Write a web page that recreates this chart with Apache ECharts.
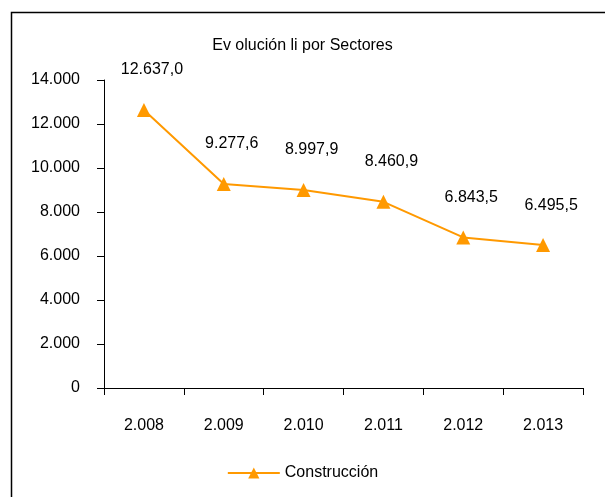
<!DOCTYPE html>
<html>
<head>
<meta charset="utf-8">
<script src="https://cdn.jsdelivr.net/npm/echarts@6/dist/echarts.min.js"></script>
<style>
  html, body { margin: 0; padding: 0; background: #fff; }
  #chart { width: 605px; height: 497px; }
</style>
</head>
<body>
<div id="chart"></div>
<script>
// datos
const years = ['2.008', '2.009', '2.010', '2.011', '2.012', '2.013'];
const construccion = [12637.0, 9277.6, 8997.9, 8460.9, 6843.5, 6495.5];
const yTicks = [0, 2000, 4000, 6000, 8000, 10000, 12000, 14000];

const fmtNum = function(v, dec) {
  const parts = v.toFixed(dec).split('.');
  const ent = parts[0].replace(/\B(?=(\d{3})+(?!\d))/g, '.');
  return dec ? ent + ',' + parts[1] : ent;
};

const font = 'Liberation Sans, Arial, sans-serif';
const chart = echarts.init(document.getElementById('chart'));

chart.setOption({
  animation: false,
  textStyle: { fontFamily: font },
  title: {
    text: 'Ev olución li por Sectores',
    left: 'center',
    top: 33,
    textStyle: { fontSize: 16, fontWeight: 'normal', color: '#000', fontFamily: font }
  },
  graphic: [{
    type: 'rect',
    left: 9, top: 10,
    shape: { width: 700, height: 600 },
    style: { fill: 'none', stroke: '#000', lineWidth: 1.5 },
    silent: true
  }],
  legend: {
    bottom: 11,
    left: 'center',
    itemWidth: 52,
    itemHeight: 14,
    itemGap: 8,
    textStyle: { fontSize: 16, color: '#000', fontFamily: font },
    data: ['Construcción']
  },
  grid: { left: 104, right: 22, top: 80, bottom: 109 },
  xAxis: {
    type: 'category',
    data: years,
    boundaryGap: true,
    axisLine: { lineStyle: { color: '#000', width: 1 } },
    axisTick: { show: true, length: 7, alignWithLabel: false, lineStyle: { color: '#000' } },
    axisLabel: { color: '#000', fontSize: 16, margin: 30, fontFamily: font }
  },
  yAxis: {
    type: 'value',
    min: yTicks[0],
    max: yTicks[yTicks.length - 1],
    interval: 2000,
    splitLine: { show: false },
    axisLine: { show: true, lineStyle: { color: '#000', width: 1 } },
    axisTick: { show: true, length: 7, lineStyle: { color: '#000' } },
    axisLabel: {
      color: '#000', fontSize: 16, margin: 24, fontFamily: font,
      formatter: function(v) { return fmtNum(v, 0); }
    }
  },
  series: [{
    name: 'Construcción',
    type: 'line',
    data: construccion,
    symbol: 'triangle',
    symbolSize: 14,
    color: '#FF9900',
    lineStyle: { color: '#FF9900', width: 2 },
    itemStyle: { color: '#FF9900' },
    label: {
      show: true,
      position: 'top',
      distance: 25,
      offset: [8, 0],
      color: '#000',
      fontSize: 16,
      fontFamily: font,
      formatter: function(p) { return fmtNum(p.value, 1); }
    }
  }]
});
</script>
</body>
</html>
